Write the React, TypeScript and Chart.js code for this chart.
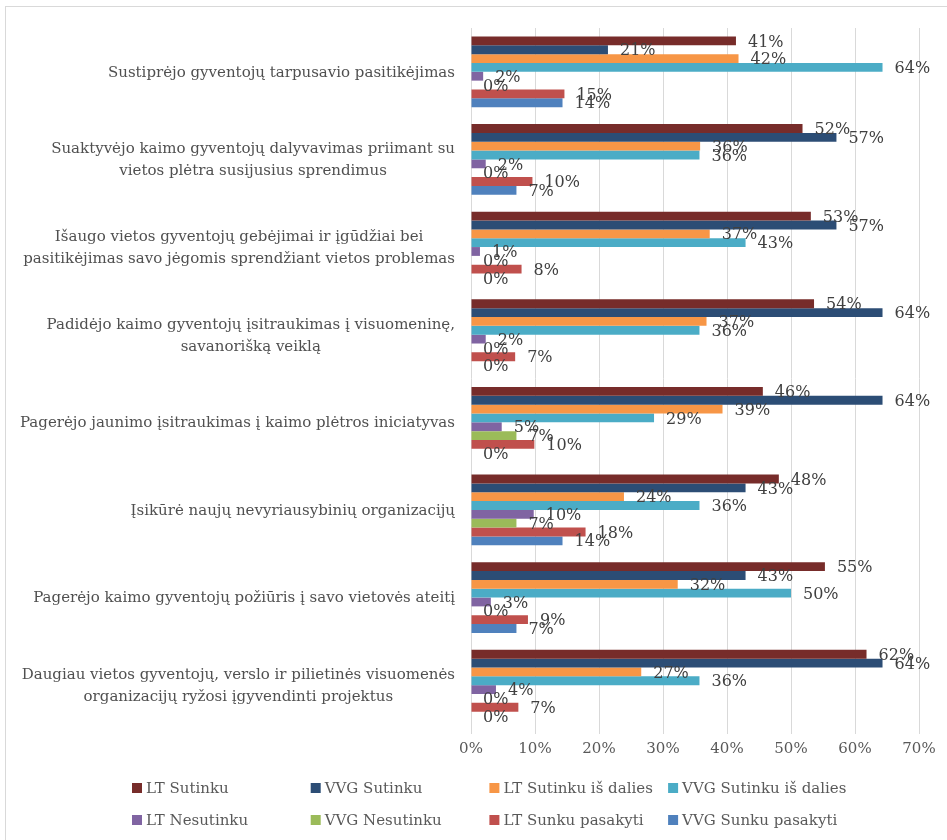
import React, { useEffect, useRef } from "react";
import { Chart, registerables } from "chart.js";

Chart.register(...registerables);

const categories: string[][] = [
  ["Sustiprėjo gyventojų tarpusavio pasitikėjimas"],
  ["Suaktyvėjo kaimo gyventojų dalyvavimas priimant su", "vietos plėtra susijusius sprendimus"],
  ["Išaugo vietos gyventojų gebėjimai ir įgūdžiai bei", "pasitikėjimas savo jėgomis sprendžiant vietos problemas"],
  ["Padidėjo kaimo gyventojų įsitraukimas į visuomeninę,", "savanorišką veiklą"],
  ["Pagerėjo jaunimo įsitraukimas į kaimo plėtros iniciatyvas"],
  ["Įsikūrė naujų nevyriausybinių organizacijų"],
  ["Pagerėjo kaimo gyventojų požiūris į savo vietovės ateitį"],
  ["Daugiau vietos gyventojų, verslo ir pilietinės visuomenės", "organizacijų ryžosi įgyvendinti projektus"],
];

const ltSutinku = [41.4, 51.8, 53.1, 53.6, 45.6, 48.1, 55.3, 61.8];
const vvgSutinku = [21.4, 57.1, 57.1, 64.3, 64.3, 42.9, 42.9, 64.3];
const ltSutinkuIsDalies = [41.8, 35.8, 37.3, 36.8, 39.3, 23.9, 32.3, 26.6];
const vvgSutinkuIsDalies = [64.3, 35.7, 42.9, 35.7, 28.6, 35.7, 50.0, 35.7];
const ltNesutinku = [1.9, 2.3, 1.4, 2.3, 4.8, 9.8, 3.1, 3.9];
const vvgNesutinku = [0, 0, 0, 0, 7.1, 7.1, 0, 0];
const ltSunkuPasakyti = [14.6, 9.6, 7.9, 6.9, 9.9, 17.9, 8.9, 7.4];
const vvgSunkuPasakyti = [14.3, 7.1, 0, 0, 0, 14.3, 7.1, 0];

const seriesNames = [
  "LT Sutinku",
  "VVG Sutinku",
  "LT Sutinku iš dalies",
  "VVG Sutinku iš dalies",
  "LT Nesutinku",
  "VVG Nesutinku",
  "LT Sunku pasakyti",
  "VVG Sunku pasakyti",
];
const seriesColors = ["#772C2A", "#2C4D75", "#F79646", "#4BACC6", "#8064A2", "#9BBB59", "#C0504D", "#4F81BD"];
const seriesValues = [
  ltSutinku,
  vvgSutinku,
  ltSutinkuIsDalies,
  vvgSutinkuIsDalies,
  ltNesutinku,
  vvgNesutinku,
  ltSunkuPasakyti,
  vvgSunkuPasakyti,
];
const xTicks = [0, 10, 20, 30, 40, 50, 60, 70];

const FONT = "'DejaVu Serif', serif";

const frameAndLabels = {
  id: "frameAndLabels",
  beforeDraw(chart: any) {
    const ctx = chart.ctx;
    ctx.save();
    ctx.fillStyle = "#ffffff";
    ctx.fillRect(0, 0, chart.width, chart.height);
    ctx.strokeStyle = "#d9d9d9";
    ctx.lineWidth = 1;
    ctx.strokeRect(5.5, 6.5, chart.width + 20, chart.height + 20);
    ctx.restore();
  },
  afterDatasetsDraw(chart: any) {
    const ctx = chart.ctx;
    ctx.save();
    // data labels
    ctx.font = `16px ${FONT}`;
    ctx.fillStyle = "#404040";
    ctx.textAlign = "left";
    ctx.textBaseline = "middle";
    chart.data.datasets.forEach((ds: any, di: number) => {
      const meta = chart.getDatasetMeta(di);
      meta.data.forEach((el: any, i: number) => {
        const v = ds.data[i];
        ctx.fillText(Math.round(v) + "%", el.x + 12, el.y + 1.5);
      });
    });
    // category labels
    const yScale = chart.scales.y;
    ctx.font = `15px ${FONT}`;
    ctx.fillStyle = "#505050";
    ctx.textAlign = "center";
    const right = 455;
    const lh = 22;
    categories.forEach((lines, i) => {
      const cy = yScale.getPixelForValue(i);
      const w = Math.max(...lines.map((l) => ctx.measureText(l).width));
      const cx = right - w / 2;
      const y0 = cy - ((lines.length - 1) * lh) / 2;
      lines.forEach((l, li) => ctx.fillText(l, cx, y0 + li * lh + 1));
    });
    // legend
    ctx.font = `15px ${FONT}`;
    ctx.textAlign = "left";
    chart.data.datasets.forEach((ds: any, di: number) => {
      const col = di % 4;
      const row = Math.floor(di / 4);
      const x = 132 + col * 178.7;
      const y = 788 + row * 32;
      ctx.fillStyle = ds.backgroundColor;
      ctx.fillRect(x, y - 5, 10, 10);
      ctx.fillStyle = "#595959";
      ctx.fillText(ds.label, x + 14, y + 1);
    });
    ctx.restore();
  },
};

export default function App() {
  const ref = useRef<HTMLCanvasElement>(null);
  useEffect(() => {
    const chart = new Chart(ref.current as HTMLCanvasElement, {
      type: "bar",
      data: {
        labels: categories.map((c) => c.join(" ")),
        datasets: seriesNames.map((name, i) => ({
          label: name,
          data: seriesValues[i],
          backgroundColor: seriesColors[i],
          borderWidth: 0,
          categoryPercentage: 0.806,
          barPercentage: 1,
        })),
      },
      options: {
        indexAxis: "y",
        animation: false,
        responsive: true,
        maintainAspectRatio: false,
        layout: { padding: { left: 471, right: 28, top: 28, bottom: 0 } },
        plugins: { legend: { display: false }, tooltip: { enabled: false } },
        scales: {
          x: {
            min: 0,
            max: 70,
            afterBuildTicks: (scale: any) => {
              scale.ticks = xTicks.map((v) => ({ value: v }));
            },
            afterFit: (scale: any) => {
              scale.height = 111;
            },
            ticks: {
              callback: (v: any) => v + "%",
              font: { family: FONT, size: 15 },
              color: "#595959",
              padding: 6,
            },
            grid: { color: "#d9d9d9", lineWidth: 1, tickLength: 5, drawTicks: true },
            border: { display: false },
          },
          y: {
            display: false,
          },
        },
      },
      plugins: [frameAndLabels],
    } as any);
    return () => chart.destroy();
  }, []);
  return (
    <div style={{ position: "absolute", left: 0, top: 0, width: 947, height: 840, background: "#fff" }}>
      <canvas ref={ref} />
    </div>
  );
}
